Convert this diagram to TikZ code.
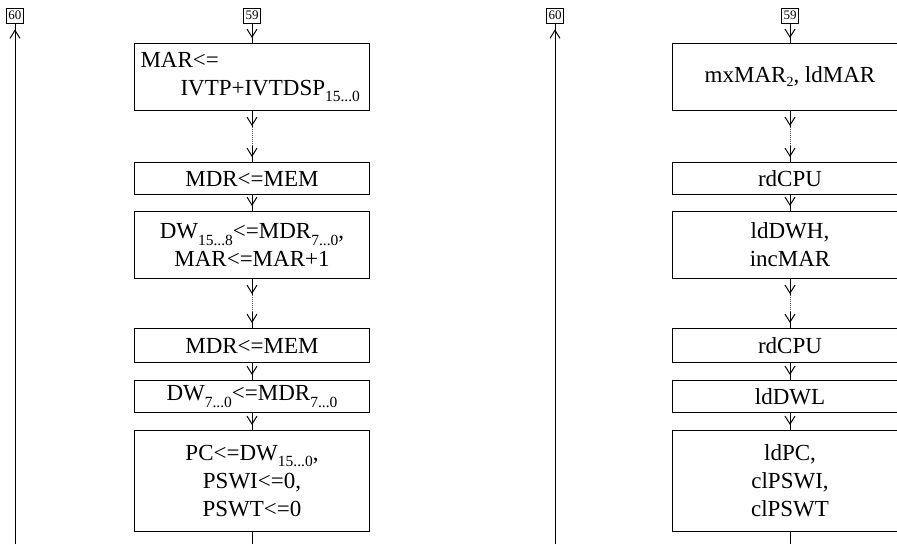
\documentclass[tikz,border=0pt]{standalone}
\usepackage{fontspec}
\setmainfont{Liberation Serif}
\usetikzlibrary{arrows.meta,decorations.markings}
\newcommand\sbx[1]{\raisebox{-6.5pt}{\fontsize{15.5}{15.5}\selectfont #1}}
\newcommand\sbs[1]{\raisebox{-4pt}{\fontsize{14}{14}\selectfont #1}}
\begin{document}
\begin{tikzpicture}[x=1pt,y=1pt,
  box/.style={draw,line width=1pt,minimum width=235pt,inner sep=0pt,align=center,
    font=\fontsize{23}{28}\selectfont,anchor=north},
  pg/.style={draw,line width=0.8pt,inner sep=0pt,font=\fontsize{13}{13}\selectfont,
    minimum width=17pt,minimum height=15pt},
  ln/.style={line width=1pt},
  dt/.style={line width=1pt,dash pattern=on 1pt off 1pt,black!70},
  ym/.style={postaction={decorate},decoration={markings,
    mark=at position #1 with {\arrow[line width=1pt]{Straight Barb[length=8pt,width=10pt]}}}}
]
\clip (0,0) rectangle (897,-544);
\fill[white] (0,0) rectangle (897,-544);

% ---------- left diagram ----------
\node[pg] (p60L) at (15,-15.5) {60};
\node[pg] (p59L) at (252,-15.5) {59};
\coordinate (e60L) at (15,-544);
\coordinate (e6L) at (252,-544);

\node[box,minimum height=67pt,text width=223pt,align=left] (b1L) at (252,-43)
  {MAR<=\\\hspace*{40pt}IVTP+IVTDSP\sbx{15...0}};
\node[box,minimum height=32pt] (b2L) at (252,-162) {MDR<=MEM};
\node[box,minimum height=67pt] (b3L) at (252,-211)
  {DW\sbx{15...8}<=MDR\sbx{7...0},\\MAR<=MAR+1};
\node[box,minimum height=34pt] (b4L) at (252,-328) {MDR<=MEM};
\node[box,minimum height=32pt] (b5L) at (252,-380) {DW\sbx{7...0}<=MDR\sbx{7...0}};
\node[box,minimum height=101pt] (b6L) at (252,-430)
  {PC<=DW\sbx{15...0},\\PSWI<=0,\\PSWT<=0};

\draw[ln,ym=-6pt] (e60L) -- (p60L.south);
\draw[ln,ym=-5pt] (p59L.south) -- (b1L.north);
\draw[dt] (b1L.south) -- (b2L.north);
\draw[ln,ym=15pt] (b1L.south) -- ([yshift=-16pt]b1L.south);
\draw[ln,ym=-5pt] ([yshift=16pt]b2L.north) -- (b2L.north);
\draw[ln,ym=-5pt] (b2L.south) -- (b3L.north);
\draw[dt] (b3L.south) -- (b4L.north);
\draw[ln,ym=15pt] (b3L.south) -- ([yshift=-16pt]b3L.south);
\draw[ln,ym=-5pt] ([yshift=16pt]b4L.north) -- (b4L.north);
\draw[ln,ym=-5pt] (b4L.south) -- (b5L.north);
\draw[ln,ym=-5pt] (b5L.south) -- (b6L.north);
\draw[ln] (b6L.south) -- (e6L);

% ---------- right diagram ----------
\node[pg] (p60R) at (555,-15.5) {60};
\node[pg] (p59R) at (790,-15.5) {59};
\coordinate (e60R) at (555,-544);
\coordinate (e6R) at (790,-544);

\node[box,minimum height=67pt] (b1R) at (790,-43) {mxMAR\sbs{2}, ldMAR};
\node[box,minimum height=32pt] (b2R) at (790,-162) {rdCPU};
\node[box,minimum height=67pt] (b3R) at (790,-211) {ldDWH,\\incMAR};
\node[box,minimum height=34pt] (b4R) at (790,-328) {rdCPU};
\node[box,minimum height=32pt] (b5R) at (790,-380) {ldDWL};
\node[box,minimum height=101pt] (b6R) at (790,-430) {ldPC,\\clPSWI,\\clPSWT};

\draw[ln,ym=-6pt] (e60R) -- (p60R.south);
\draw[ln,ym=-5pt] (p59R.south) -- (b1R.north);
\draw[dt] (b1R.south) -- (b2R.north);
\draw[ln,ym=15pt] (b1R.south) -- ([yshift=-16pt]b1R.south);
\draw[ln,ym=-5pt] ([yshift=16pt]b2R.north) -- (b2R.north);
\draw[ln,ym=-5pt] (b2R.south) -- (b3R.north);
\draw[dt] (b3R.south) -- (b4R.north);
\draw[ln,ym=15pt] (b3R.south) -- ([yshift=-16pt]b3R.south);
\draw[ln,ym=-5pt] ([yshift=16pt]b4R.north) -- (b4R.north);
\draw[ln,ym=-5pt] (b4R.south) -- (b5R.north);
\draw[ln,ym=-5pt] (b5R.south) -- (b6R.north);
\draw[ln] (b6R.south) -- (e6R);
\end{tikzpicture}
\end{document}
